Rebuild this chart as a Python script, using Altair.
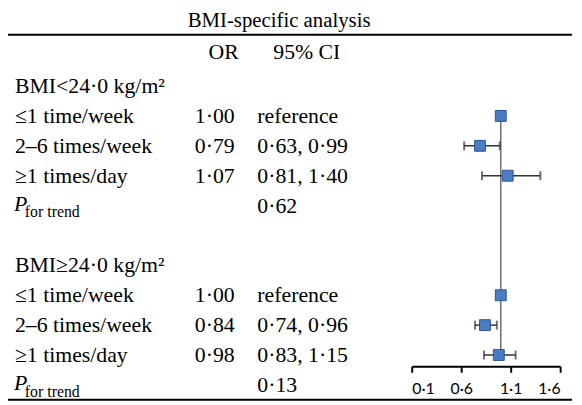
import altair as alt
import pandas as pd

# ---- data ----
groups = ["BMI<24·0 kg/m²", "BMI≥24·0 kg/m²"]
categories = ["≤1 time/week", "2–6 times/week", "≥1 times/day"]
or_vals = [[1.00, 0.79, 1.07], [1.00, 0.84, 0.98]]
ci_lo = [[None, 0.63, 0.81], [None, 0.74, 0.83]]
ci_hi = [[None, 0.99, 1.40], [None, 0.96, 1.15]]
p_trend = ["0·62", "0·13"]
axis_ticks = [0.1, 0.6, 1.1, 1.6]
title_text = "BMI-specific analysis"
col_headers = ["OR", "95% CI"]


def dot(v):
    return f"{v:.2f}".replace(".", "·")


# ---- build tables ----
label_rows, or_rows, ci_rows, pt_rows, pts, bars, caps = [], [], [], [], [], [], []
for g, grp in enumerate(groups):
    base = 1 + 6 * g
    label_rows.append({"r": base, "t": grp})
    for i, cat in enumerate(categories):
        r = base + 1 + i
        label_rows.append({"r": r, "t": cat})
        or_rows.append({"r": r, "t": dot(or_vals[g][i])})
        lo, hi = ci_lo[g][i], ci_hi[g][i]
        ci_rows.append({"r": r, "t": "reference" if lo is None else f"{dot(lo)}, {dot(hi)}"})
        pts.append({"r": r, "x": or_vals[g][i]})
        if lo is not None:
            bars.append({"r": r, "lo": lo, "hi": hi})
            caps.append({"r": r, "x": lo})
            caps.append({"r": r, "x": hi})
    pt_rows.append({"r": base + 4, "t": p_trend[g]})

labels_df = pd.DataFrame(label_rows)
or_df = pd.DataFrame(or_rows)
ci_df = pd.DataFrame(ci_rows + pt_rows)
pt_df = pd.DataFrame(pt_rows)
pts_df = pd.DataFrame(pts)
bars_df = pd.DataFrame(bars)
caps_df = pd.DataFrame(caps)
ref_df = pd.DataFrame([{"x": 1.0, "r": 2, "r2": 10}])
rules_df = pd.DataFrame([{"r": -0.715}, {"r": 11.5}])
title_df = pd.DataFrame([{"r": -1.17, "t": title_text}])
hdr_or_df = pd.DataFrame([{"r": -0.15, "t": col_headers[0]}])
hdr_ci_df = pd.DataFrame([{"r": -0.15, "t": col_headers[1]}])

W, H = 572, 397
ys = alt.Scale(domain=[-1.543, 11.603], range=[0, H])
xs = alt.Scale(domain=[0.1, 1.6], range=[408, 558], nice=False, zero=False)
Y = alt.Y("r:Q", scale=ys, axis=None)
SERIF = "Liberation Serif"
FS = 22

rules = alt.Chart(rules_df).mark_rule(color="black", strokeWidth=2).encode(
    y=Y, x=alt.value(0), x2=alt.value(570))

title = alt.Chart(title_df).mark_text(font=SERIF, fontSize=21, align="center", baseline="middle").encode(
    y=Y, x=alt.value(274), text="t:N")

hdr_or = alt.Chart(hdr_or_df).mark_text(font=SERIF, fontSize=FS, align="center", baseline="middle").encode(
    y=Y, x=alt.value(218), text="t:N")
hdr_ci = alt.Chart(hdr_ci_df).mark_text(font=SERIF, fontSize=FS, align="center", baseline="middle").encode(
    y=Y, x=alt.value(302), text="t:N")

lab = alt.Chart(labels_df).mark_text(font=SERIF, fontSize=FS, align="left", baseline="middle").encode(
    y=Y, x=alt.value(7), text="t:N")
orc = alt.Chart(or_df).mark_text(font=SERIF, fontSize=FS, align="center", baseline="middle").encode(
    y=Y, x=alt.value(209), text="t:N")
cic = alt.Chart(ci_df).mark_text(font=SERIF, fontSize=FS, align="left", baseline="middle").encode(
    y=Y, x=alt.value(252), text="t:N")
p_big = alt.Chart(pt_df).mark_text(font=SERIF, fontSize=FS, fontStyle="italic", align="left",
                                   baseline="middle", dy=-2).encode(
    y=Y, x=alt.value(6), text=alt.value("P"))
p_sub = alt.Chart(pt_df).mark_text(font=SERIF, fontSize=16, align="left", baseline="middle", dy=7).encode(
    y=Y, x=alt.value(17), text=alt.value("for trend"))

ref = alt.Chart(ref_df).mark_rule(color="#6e6e6e", strokeWidth=1.5).encode(
    x=alt.X("x:Q", scale=xs,
            axis=alt.Axis(orient="bottom", offset=-37, values=axis_ticks, grid=False, title=None,
                          tickSize=6, tickWidth=2, tickColor="black", domainColor="black", domainWidth=2,
                          labelPadding=8, labelFont="Lato", labelFontSize=16, labelColor="black",
                          labelExpr="replace(datum.label, '.', '·')")),
    y=Y, y2="r2:Q")

bar = alt.Chart(bars_df).mark_rule(color="#333333", strokeWidth=1.5).encode(
    x=alt.X("lo:Q", scale=xs), x2="hi:Q", y=Y)

cap = alt.Chart(caps_df).mark_tick(color="#333333", orient="vertical", size=9, thickness=2).encode(
    x=alt.X("x:Q", scale=xs), y=Y)

sq = alt.Chart(pts_df).mark_square(size=121, color="#4a7cc4", stroke="#2f5597", strokeWidth=1, opacity=1).encode(
    x=alt.X("x:Q", scale=xs), y=Y)

chart = alt.layer(rules, title, hdr_or, hdr_ci, lab, orc, cic, p_big, p_sub, ref, bar, cap, sq).properties(
    width=W, height=H, autosize=alt.AutoSizeParams(type="none"), padding=0
).configure_view(stroke=None)

chart.save("out.html", embed_options={"renderer": "svg", "actions": False})
